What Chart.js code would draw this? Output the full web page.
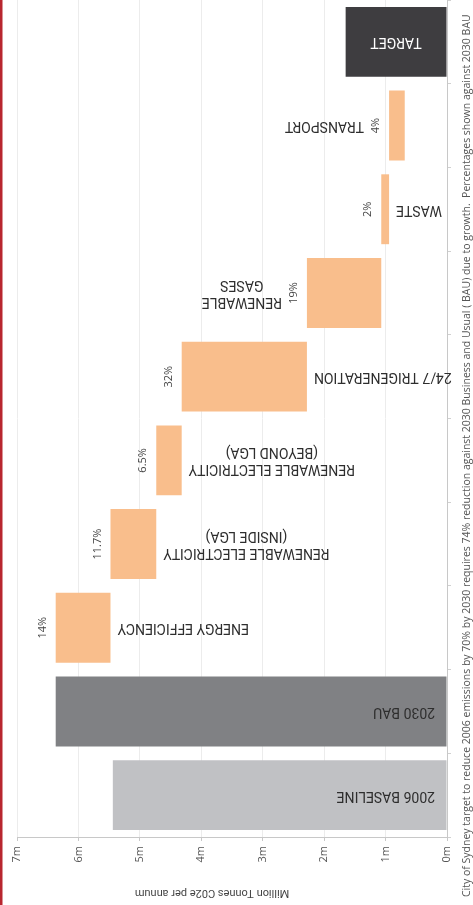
<!DOCTYPE html>
<html>
<head>
<meta charset="utf-8">
<script src="https://cdn.jsdelivr.net/npm/chart.js@4.4.1/dist/chart.umd.min.js"></script>
<style>
  html, body { margin: 0; padding: 0; background: #fff; }
  #wrap { width: 473px; height: 905px; position: relative; }
</style>
</head>
<body>
<div id="wrap"><canvas id="chart"></canvas></div>
<script>
// Emissions pathway, bottom to top: baseline, BAU, reduction steps, target
const baselineTotal = 5.44;   // million tonnes, 2006
const bauTotal = 6.37;        // million tonnes, 2030 business as usual
const targetTotal = 1.65;     // million tonnes, 2030 target

const stepNames = [
  "ENERGY EFFICIENCY",
  ["RENEWABLE ELECTRICITY", "(INSIDE LGA)"],
  ["RENEWABLE ELECTRICITY", "(BEYOND LGA)"],
  "24/7 TRIGENERATION",
  ["RENEWABLE", "GASES"],
  "WASTE",
  "TRANSPORT",
];
// reduction of each step, % of 2030 BAU
const stepPct = [14, 11.7, 6.5, 32, 19, 2, 4];

const title = "City of Sydney target to reduce 2006 emissions by 70% by 2030 requires 74% reduction against 2030 Business and Usual ( BAU) due to growth.  Percentages shown against 2030 BAU";
const axisTitle = "Million Tonnes C02e per annum";

// where each step's name goes relative to its bar
const stepLabelSide = ["after", "after", "after", "after", "before", "after", "before"];

// build the waterfall ranges
const labels = ["2006 BASELINE", "2030 BAU"];
const ranges = [[0, baselineTotal], [0, bauTotal]];
const pctText = [null, null];
const colors = ["#c0c1c4", "#808184"];
const labelSide = ["inside", "inside"];
let level = bauTotal;
stepNames.forEach((name, i) => {
  const next = level - bauTotal * stepPct[i] / 100;
  labels.push(name);
  ranges.push([next, level]);
  pctText.push(stepPct[i] + "%");
  colors.push("#f9be8c");
  labelSide.push(stepLabelSide[i]);
  level = next;
});
labels.push("TARGET");
ranges.push([0, targetTotal]);
pctText.push(null);
colors.push("#3e3d40");
labelSide.push("center");

const FONT_LABEL = "14px Roboto";
const FONT_PCT = "11px 'Open Sans'";

const decorations = {
  id: "decorations",
  beforeDraw(chart) {
    const ctx = chart.ctx;
    ctx.save();
    ctx.fillStyle = "#b8262f";
    ctx.fillRect(0, 0, 2.5, chart.height);
    ctx.restore();
  },
  afterDatasetsDraw(chart) {
    const ctx = chart.ctx;
    const meta = chart.getDatasetMeta(0);
    const xs = chart.scales.x;
    const zero = xs.getPixelForValue(0);
    ctx.save();
    meta.data.forEach((bar, i) => {
      const left = Math.min(bar.x, bar.base);
      const right = Math.max(bar.x, bar.base);
      const cy = bar.y;

      // percentage next to the bar, reading upwards
      if (pctText[i]) {
        ctx.save();
        ctx.translate(left - 13, cy);
        ctx.rotate(-Math.PI / 2);
        ctx.font = FONT_PCT;
        ctx.fillStyle = "#444";
        ctx.textAlign = "center";
        ctx.textBaseline = "middle";
        ctx.fillText(pctText[i], 0, 0);
        ctx.restore();
      }

      // category name, upside down
      const lines = Array.isArray(labels[i]) ? labels[i] : [labels[i]];
      ctx.font = FONT_LABEL;
      const w = Math.max(...lines.map(l => ctx.measureText(l).width));
      let cx;
      const side = labelSide[i];
      if (side === "after") cx = right + 7 + w / 2;
      else if (side === "before") cx = left - 25 - w / 2;
      else if (side === "inside") cx = zero - 12 - w / 2;
      else cx = (left + right) / 2;
      const lh = 17;
      ctx.save();
      ctx.translate(cx, cy);
      ctx.rotate(Math.PI);
      ctx.fillStyle = side === "center" ? "#ffffff" : "#2e2e2e";
      ctx.textAlign = "center";
      ctx.textBaseline = "middle";
      lines.forEach((l, k) => {
        ctx.fillText(l, 0, (k - (lines.length - 1) / 2) * lh);
      });
      ctx.restore();
    });

    // axis title, upside down under the ticks
    ctx.save();
    ctx.translate((chart.chartArea.left + chart.chartArea.right) / 2 - 20, 893);
    ctx.rotate(Math.PI);
    ctx.font = "11px Roboto";
    ctx.fillStyle = "#444";
    ctx.textAlign = "center";
    ctx.textBaseline = "middle";
    ctx.fillText(axisTitle, 0, 0);
    ctx.restore();

    // chart title down the right edge
    ctx.save();
    ctx.translate(467, 897);
    ctx.rotate(-Math.PI / 2);
    ctx.font = "10.5px 'Open Sans'";
    ctx.fillStyle = "#555";
    ctx.textAlign = "left";
    ctx.textBaseline = "middle";
    ctx.fillText(title, 0, 0);
    ctx.restore();
    ctx.restore();
  },
};

new Chart(document.getElementById("chart"), {
  type: "bar",
  data: {
    labels: labels,
    datasets: [{
      data: ranges,
      backgroundColor: colors,
      borderWidth: 0,
      barPercentage: 0.835,
      categoryPercentage: 1,
    }],
  },
  options: {
    indexAxis: "y",
    responsive: true,
    maintainAspectRatio: false,
    animation: false,
    layout: { padding: { left: 17, top: 0, right: 0, bottom: 0 } },
    plugins: {
      legend: { display: false },
      tooltip: { enabled: false },
    },
    scales: {
      x: {
        reverse: true,
        min: 0,
        max: 7,
        ticks: {
          stepSize: 1,
          callback: (v) => v + "m",
          minRotation: 90,
          maxRotation: 90,
          padding: 5,
          color: "#555",
          font: { family: "'Open Sans'", size: 11 },
        },
        grid: { color: "#ececec", tickColor: "#c8c8c8", tickLength: 4 },
        border: { color: "#c8c8c8" },
        afterFit: (s) => { s.height = 68; },
      },
      y: {
        position: "right",
        reverse: true,
        ticks: { display: false },
        grid: { drawOnChartArea: false, offset: true, tickLength: 4, tickColor: "#d0d0d0" },
        border: { color: "#c8c8c8" },
        afterFit: (s) => { s.width = 26; },
      },
    },
  },
  plugins: [decorations],
});
</script>
</body>
</html>
